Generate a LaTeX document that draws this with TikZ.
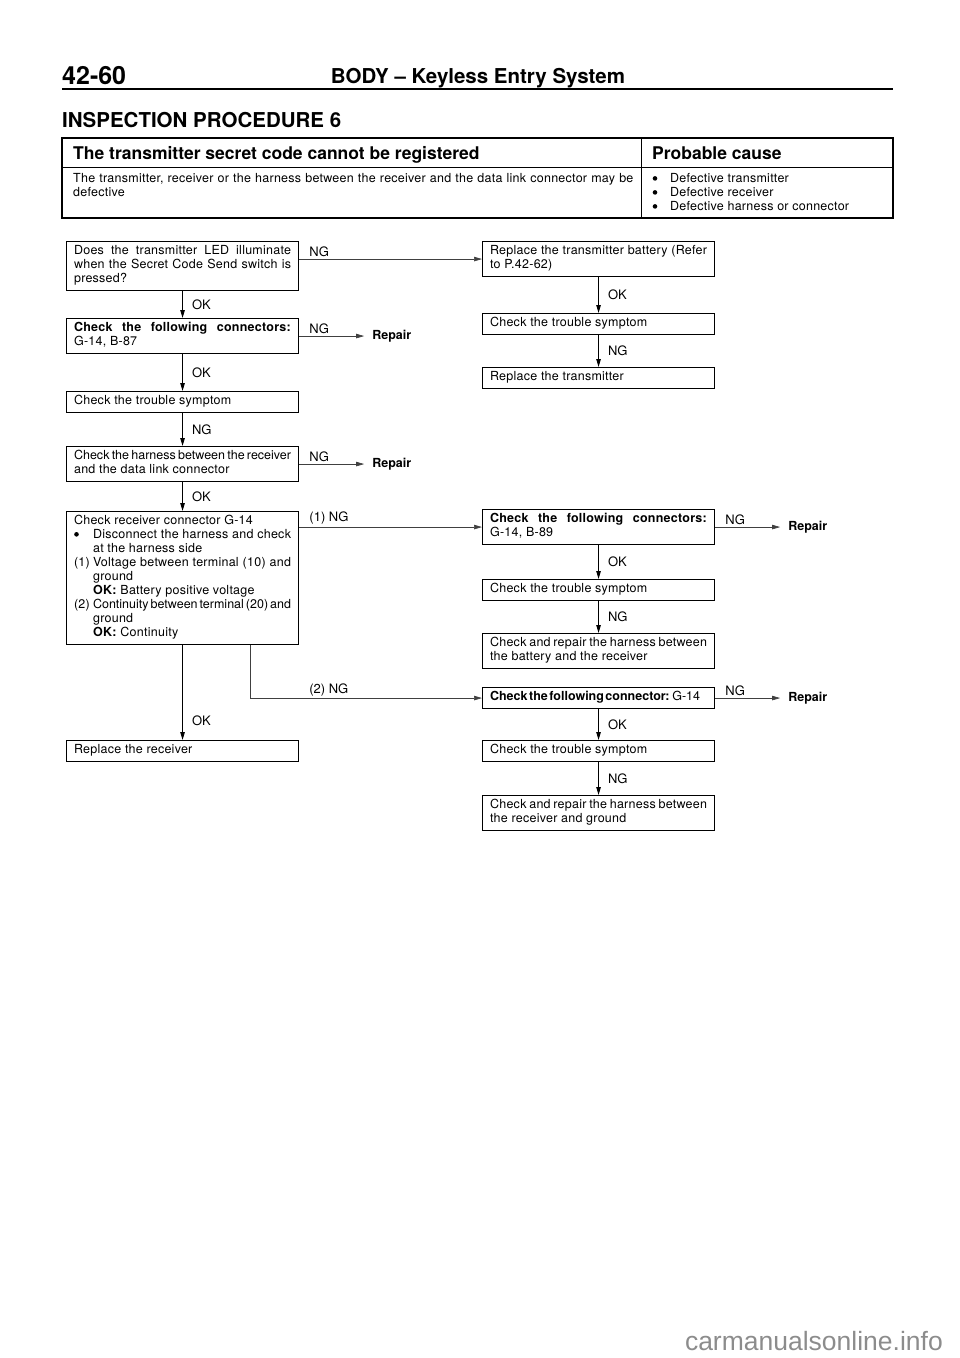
\documentclass[tikz,border=0pt]{standalone}
\usepackage{fontspec}
\setmainfont{TeX Gyre Heros}
\newfontfamily\flowfamily[LetterSpace=2]{TeX Gyre Heros}
\newfontfamily\markfamily{Liberation Sans}
\usetikzlibrary{positioning, arrows.meta}

\newcommand\flowfont{\flowfamily\fontsize{12.5}{14}\selectfont}
\newcommand\answerfont{\fontsize{13}{15}\selectfont}
\newcommand\repairfont{\fontsize{12.5}{14}\selectfont\bfseries}
\newcommand\tabheadfont{\fontsize{17.5}{20}\selectfont\bfseries}
\newcommand\pagefont{\fontsize{25}{28}\selectfont\bfseries}
\newcommand\sectfont{\fontsize{20.5}{24}\selectfont\bfseries}
\newcommand\markfont{\markfamily\fontsize{26.5}{30}\selectfont}
\newcommand\tightwords{\addfontfeature{LetterSpace=0}\spaceskip=1.5pt plus 4pt\relax}

\begin{document}
\begin{tikzpicture}[x=1pt, y=-1pt,
    box/.style={draw, line width=1.1pt, anchor=north west, align=justify,
      text width=217pt, inner xsep=7.5pt, inner ysep=3.5pt, font=\flowfont,
      execute at begin node={\parindent=0pt\strut},
      execute at end node={\strut}},
    flowarr/.style={-{Triangle[length=8pt, width=4.5pt]}, line width=0.9pt},
    sidearr/.style={flowarr, line width=0.7pt, draw=black!75},
    ans/.style={font=\answerfont, inner sep=1pt, right=8pt},
    sidelbl/.style={font=\answerfont, inner sep=1pt, anchor=south west, xshift=9pt, yshift=1pt},
    repair/.style={font=\repairfont, inner xsep=8pt, inner ysep=0pt},
    cause/.style={anchor=base west, font=\flowfont, inner sep=0pt},
  ]
  \useasboundingbox (0,0) rectangle (960,1358);

  % page head
  \node[anchor=base west, font=\pagefont, inner sep=0pt] (page) at (62,84) {42-60};
  \node[anchor=base, font=\sectfont, inner sep=0pt] (title) at (478,83) {BODY -- Keyless Entry System};
  \draw[line width=2.5pt] (62,89) -- (893,89);
  \node[anchor=base west, font=\sectfont, inner sep=0pt] (proc) at (62,127) {INSPECTION PROCEDURE 6};

  % symptom table
  \draw[line width=1.2pt] (62,138) rectangle (893,218);
  \draw[line width=1pt] (62,167) -- (893,167) (641,138) -- (641,218);
  \node[anchor=base west, font=\tabheadfont, inner sep=0pt] (symptom) at (73,159) {The transmitter secret code cannot be registered};
  \node[anchor=base west, font=\tabheadfont, inner sep=0pt] (head) at (652,159) {Probable cause};
  \node[anchor=north west, font=\flowfont, text width=562pt, align=left, inner sep=0pt] (reason) at (73,172)
    {\strut The transmitter, receiver or the harness between the receiver and the data link connector may be\newline defective};
  \node[cause] (c1) at (670,182) {Defective transmitter};
  \node[cause] (c2) at (670,196) {Defective receiver};
  \node[cause] (c3) at (670,210) {Defective harness or connector};
  \foreach \c in {c1,c2,c3}
    \fill ([xshift=-15pt, yshift=3.6pt]\c.base west) circle (2.3pt);

  % left column
  \node[box] (L1) at (66,241) {Does the transmitter LED illuminate\linebreak when the Secret Code Send switch is\linebreak pressed?};
  \node[box] (L2) at (66,318) {\textbf{Check the following connectors:}\linebreak G-14, B-87};
  \node[box] (L3) at (66,391) {Check the trouble symptom};
  \node[box] (L4) at (66,446) {{\tightwords Check the harness between the receiver}\linebreak and the data link connector};
  \node[box] (L5) at (66,511) {Check receiver connector G-14\newline
    \hspace*{19pt}Disconnect the harness and check\linebreak
    \hspace*{19pt}at the harness side\newline
    \makebox[19pt][l]{(1)}Voltage between terminal (10) and\linebreak
    \hspace*{19pt}ground\newline
    \hspace*{19pt}\textbf{OK:} Battery positive voltage\newline
    \makebox[19pt][l]{(2)}{\tightwords Continuity between terminal (20) and}\linebreak
    \hspace*{19pt}ground\newline
    \hspace*{19pt}\textbf{OK:} Continuity};
  \fill ([xshift=10.5pt, yshift=-23.3pt]L5.north west) circle (2.3pt);
  \node[box] (L6) at (66,740) {Replace the receiver};

  % right column
  \node[box] (R1) at (482,241) {Replace the transmitter battery (Refer\linebreak to P.42-62)};
  \node[box] (R2) at (482,313) {Check the trouble symptom};
  \node[box] (R3) at (482,367) {Replace the transmitter};
  \node[box] (R4) at (482,509) {\textbf{Check the following connectors:}\linebreak G-14, B-89};
  \node[box] (R5) at (482,579) {Check the trouble symptom};
  \node[box] (R6) at (482,633) {{\spaceskip=2pt plus 3pt Check and repair the harness between}\linebreak the battery and the receiver};
  \node[box] (R7) at (482,687) {{\tightwords\textbf{Check the following connector:} G-14}};
  \node[box] (R8) at (482,740) {Check the trouble symptom};
  \node[box] (R9) at (482,795) {{\spaceskip=2pt plus 3pt Check and repair the harness between}\linebreak the receiver and ground};

  \node[repair, right=65pt of L2] (fix1) {Repair};
  \node[repair, right=65pt of L4] (fix2) {Repair};
  \node[repair, right=65pt of R4] (fix3) {Repair};
  \node[repair, right=65pt of R7] (fix4) {Repair};

  \begin{scope}[font=\answerfont]
    \draw[flowarr] (L1) -- node[ans] {OK} (L2);
    \draw[flowarr] (L2) -- node[ans] {OK} (L3);
    \draw[flowarr] (L3) -- node[ans] {NG} (L4);
    \draw[flowarr] (L4) -- node[ans] {OK} (L5);
    \draw[flowarr] (L5) -- node[ans, pos=0.8] {OK} (L6);
    \draw[flowarr] (R1) -- node[ans] {OK} (R2);
    \draw[flowarr] (R2) -- node[ans] {NG} (R3);
    \draw[flowarr] (R4) -- node[ans] {OK} (R5);
    \draw[flowarr] (R5) -- node[ans] {NG} (R6);
    \draw[flowarr] (R7) -- node[ans] {OK} (R8);
    \draw[flowarr] (R8) -- node[ans] {NG} (R9);

    \draw[sidearr] (L1.east |- R1.west) -- node[sidelbl, pos=0] {NG} (R1.west);
    \draw[sidearr] (L2) -- node[sidelbl, pos=0] {NG} (fix1);
    \draw[sidearr] (L4) -- node[sidelbl, pos=0] {NG} (fix2);
    \draw[sidearr] (L5.east |- R4.west) -- node[sidelbl, pos=0] {(1) NG} (R4.west);
    \coordinate (L5b) at ([xshift=68pt]L5.south);
    \draw[sidearr] (L5b) |- (R7.west);
    \node[sidelbl] (ng2) at (L5.east |- R7.west) {(2) NG};
    \draw[sidearr] (R4) -- node[sidelbl, pos=0] {NG} (fix3);
    \draw[sidearr] (R7) -- node[sidelbl, pos=0] {NG} (fix4);
  \end{scope}

  \node[anchor=base east, font=\markfont, text=black!45, inner sep=0pt] (mark) at (943,1350) {carmanualsonline.info};
\end{tikzpicture}
\end{document}
